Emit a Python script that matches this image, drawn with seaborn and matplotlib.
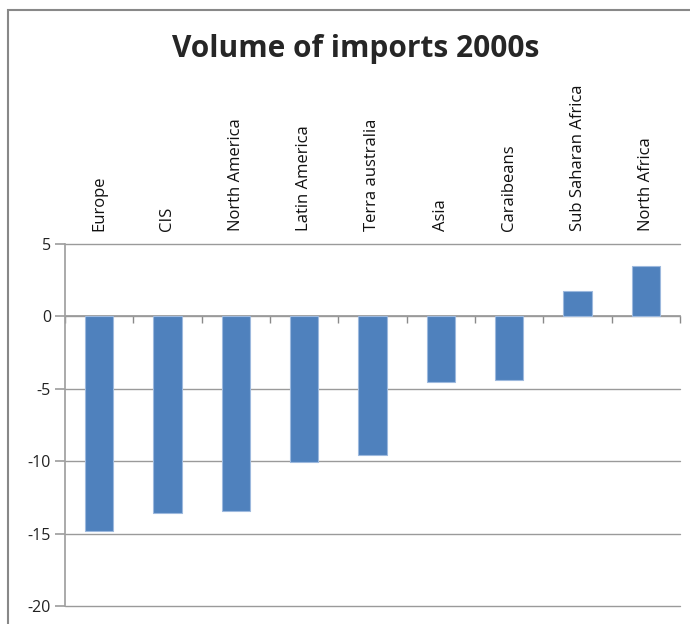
import matplotlib
matplotlib.use("Agg")
import matplotlib.pyplot as plt
import seaborn as sns
import pandas as pd
from matplotlib.patches import Rectangle

regions = ["Europe", "CIS", "North America", "Latin America", "Terra australia",
           "Asia", "Caraibeans", "Sub Saharan Africa", "North Africa"]
values = [-14.85, -13.55, -13.45, -10.07, -9.6, -4.5, -4.37, 1.72, 3.47]
yticks = [5, 0, -5, -10, -15, -20]

df = pd.DataFrame({"region": regions, "value": values})

sns.set_theme(style="white")
plt.rcParams["font.family"] = ["Open Sans", "DejaVu Sans"]

fig = plt.figure(figsize=(6.9, 6.24), dpi=100)
ax = fig.add_axes([65/690, 18/624, 615/690, 362/624])

sns.barplot(data=df, x="region", y="value", color="#4F81BD", width=0.41,
            edgecolor="#9DB9DE", linewidth=0.8, saturation=1, ax=ax, zorder=3)

ax.set_ylim(-20, 5)
ax.set_xlim(-0.5, len(regions) - 0.5)
ax.set_yticks(yticks)
ax.set_yticklabels([str(t) for t in yticks], fontsize=11.5)
ax.set_xlabel("")
ax.set_ylabel("")
ax.yaxis.grid(True, color="#9a9a9a", linewidth=1, zorder=0)
for gl in ax.yaxis.get_gridlines():
    gl.set_clip_on(False)

for s in ["top", "right"]:
    ax.spines[s].set_visible(False)
ax.spines["left"].set_color("#a0a0a0")
ax.spines["bottom"].set_position(("data", 0))
ax.spines["bottom"].set_color("#9a9a9a")
ax.spines["bottom"].set_zorder(2)

ax.set_xticks(range(len(regions)))
ax.set_xticks([i + 0.5 for i in range(-1, len(regions))], minor=True)
ax.set_xticklabels(regions, rotation=90, fontsize=12)
ax.tick_params(axis="x", which="major", length=0, bottom=False, top=False,
               labelbottom=False, labeltop=True, pad=9)
ax.tick_params(axis="x", which="minor", length=5, bottom=True, top=False,
               color="#8a8a8a", direction="out")
ax.tick_params(axis="y", length=7, left=True, color="#a0a0a0", pad=3,
               labelcolor="#222222")
for lbl in ax.get_xticklabels():
    lbl.set_color("#111111")

fig.text(356/690, 1 - 49/624, "Volume of imports 2000s", ha="center", va="center",
         fontsize=21.5, fontweight="bold", family=["Open Sans", "DejaVu Sans"])

fig.patches.append(Rectangle((8/690, -0.1), 1.2, 1 - 10/624 + 0.1,
                             transform=fig.transFigure, fill=False,
                             edgecolor="#888888", linewidth=1.5))

fig.savefig("out.png", dpi=100)
